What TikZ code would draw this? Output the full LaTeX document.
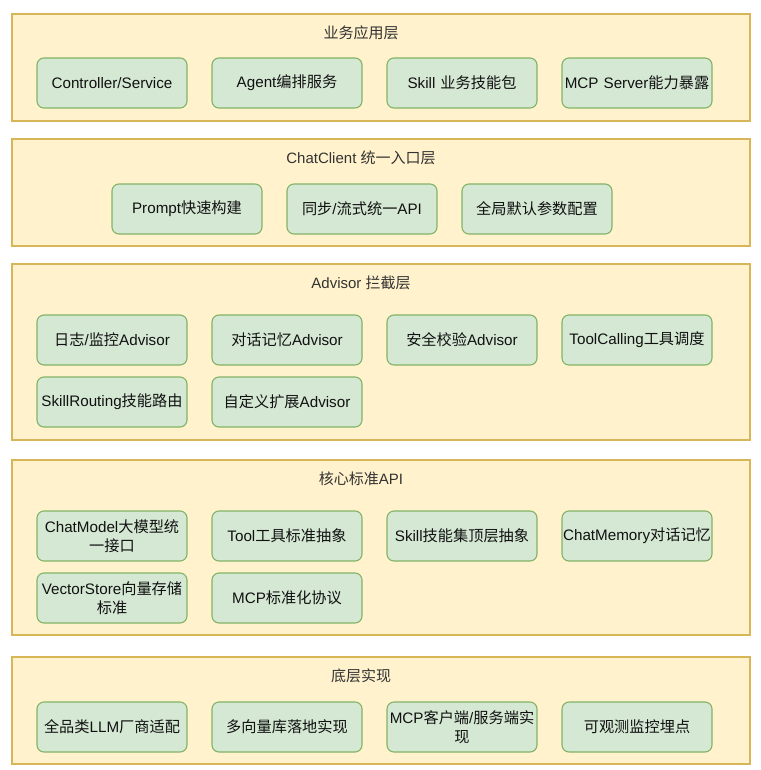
\documentclass[tikz,border=0pt]{standalone}
\usepackage{fontspec}
\setmainfont{Liberation Sans}
\newfontfamily\cjk{Noto Sans CJK SC}
\definecolor{layerfill}{HTML}{FFF2CC}
\definecolor{layerdraw}{HTML}{D6B656}
\definecolor{boxfill}{HTML}{D5E8D4}
\definecolor{boxdraw}{HTML}{82B366}
\definecolor{titlecol}{HTML}{333333}
\definecolor{textcol}{HTML}{111111}
\tikzset{
  layer/.style={draw=layerdraw, fill=layerfill, line width=1.1pt, minimum width=738pt, inner sep=0pt},
  ltitle/.style={font=\fontsize{15}{18}\selectfont, text=titlecol, inner sep=0pt},
  item/.style={draw=boxdraw, fill=boxfill, line width=1.1pt, rounded corners=7pt,
    minimum width=150pt, minimum height=50pt, inner sep=1pt, align=center,
    font=\fontsize{15.2}{18.5}\selectfont, text=textcol, text width=148pt},
}
\begin{document}
\begin{tikzpicture}[x=1pt,y=-1pt]
\useasboundingbox (0,0) rectangle (760,770);
% layers
\node[layer, minimum height=107pt] (L1) at (381,67.5) {};
\node[layer, minimum height=107pt] (L2) at (381,192.5) {};
\node[layer, minimum height=176pt] (L3) at (381,352) {};
\node[layer, minimum height=175pt] (L4) at (381,547.5) {};
\node[layer, minimum height=107pt] (L5) at (381,710.5) {};
% titles
\node[ltitle] (T1) at (361,33) {\cjk 业务应用层};
\node[ltitle] (T2) at (361,158) {ChatClient {\cjk 统一入口层}};
\node[ltitle] (T3) at (361,283) {Advisor {\cjk 拦截层}};
\node[ltitle] (T4) at (361,479) {{\cjk 核心标准}API};
\node[ltitle] (T5) at (361,676) {\cjk 底层实现};
% layer 1
\node[item] (a1) at (112,83) {Controller/Service};
\node[item] (a2) at (287,83) {Agent{\cjk 编排服务}};
\node[item] (a3) at (462,83) {Skill {\cjk 业务技能包}};
\node[item] (a4) at (637,83) {MCP Server{\cjk 能力暴露}};
% layer 2
\node[item] (b1) at (187,209) {Prompt{\cjk 快速构建}};
\node[item] (b2) at (362,209) {{\cjk 同步}/{\cjk 流式统一}API};
\node[item] (b3) at (537,209) {\cjk 全局默认参数配置};
% layer 3
\node[item] (c1) at (112,340) {{\cjk 日志}/{\cjk 监控}Advisor};
\node[item] (c2) at (287,340) {{\cjk 对话记忆}Advisor};
\node[item] (c3) at (462,340) {{\cjk 安全校验}Advisor};
\node[item] (c4) at (637,340) {ToolCalling{\cjk 工具调度}};
\node[item] (c5) at (112,402) {SkillRouting{\cjk 技能路由}};
\node[item] (c6) at (287,402) {{\cjk 自定义扩展}Advisor};
% layer 4
\node[item] (d1) at (112,536) {ChatModel{\cjk 大模型统}\\{\cjk 一接口}};
\node[item] (d2) at (287,536) {Tool{\cjk 工具标准抽象}};
\node[item] (d3) at (462,536) {Skill{\cjk 技能集顶层抽象}};
\node[item] (d4) at (637,536) {ChatMemory{\cjk 对话记忆}};
\node[item] (d5) at (112,598) {VectorStore{\cjk 向量存储}\\{\cjk 标准}};
\node[item] (d6) at (287,598) {MCP{\cjk 标准化协议}};
% layer 5
\node[item] (e1) at (112,727) {{\cjk 全品类}LLM{\cjk 厂商适配}};
\node[item] (e2) at (287,727) {\cjk 多向量库落地实现};
\node[item] (e3) at (462,727) {MCP{\cjk 客户端}/{\cjk 服务端实}\\{\cjk 现}};
\node[item] (e4) at (637,727) {\cjk 可观测监控埋点};
\end{tikzpicture}
\end{document}
